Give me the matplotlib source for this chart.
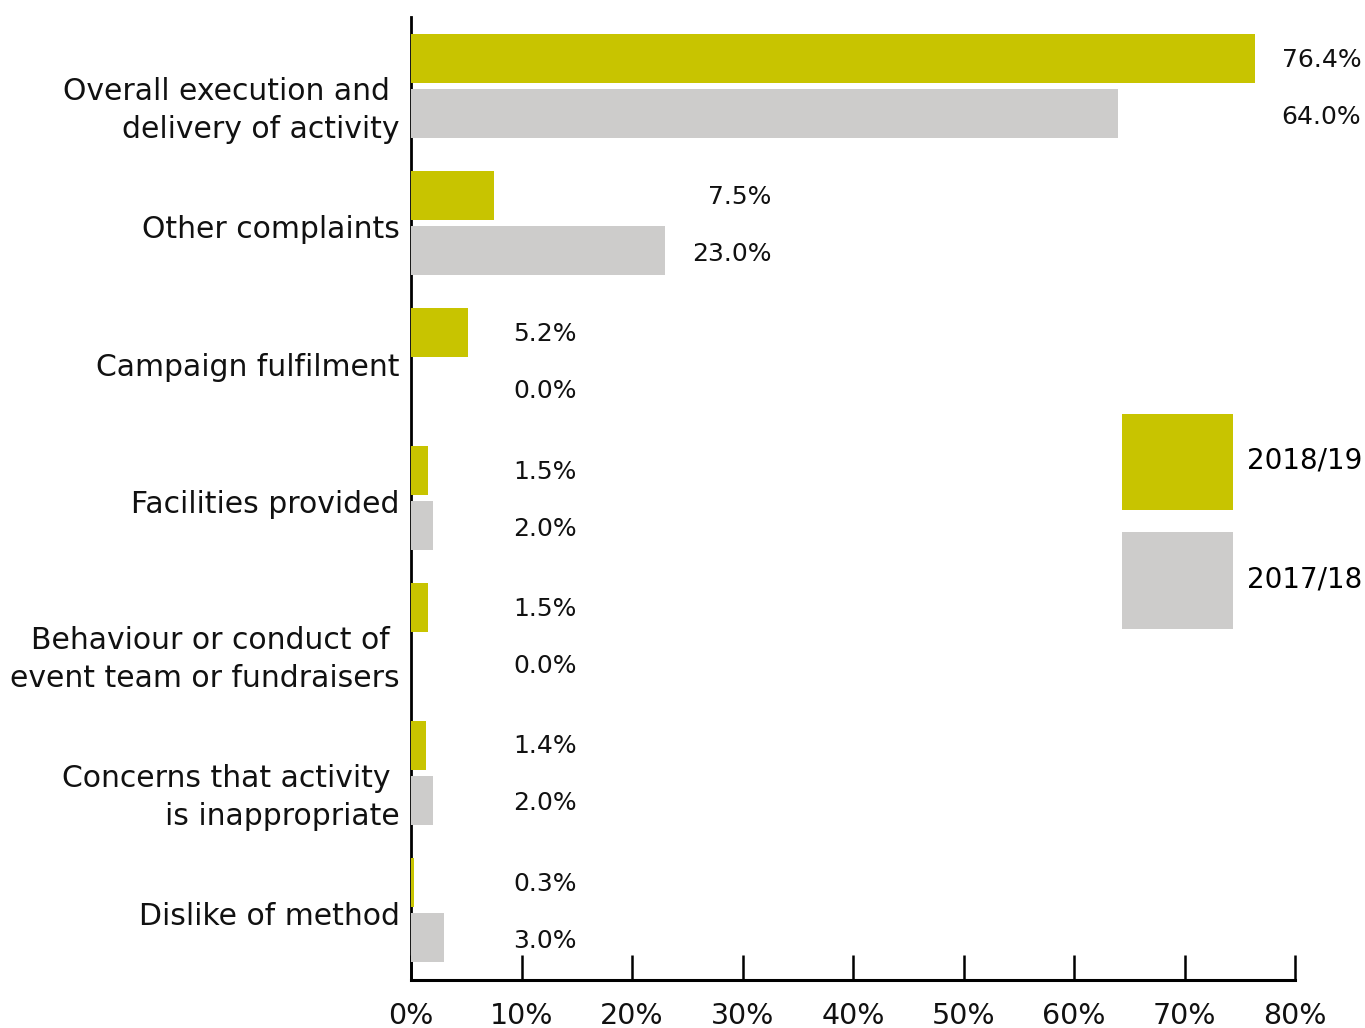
import matplotlib.pyplot as plt

categories = [
    'Overall execution and \ndelivery of activity',
    'Other complaints',
    'Campaign fulfilment',
    'Facilities provided',
    'Behaviour or conduct of \nevent team or fundraisers',
    'Concerns that activity \nis inappropriate',
    'Dislike of method',
]
y2018 = [76.4, 7.5, 5.2, 1.5, 1.5, 1.4, 0.3]
y2017 = [64.0, 23.0, 0.0, 2.0, 0.0, 2.0, 3.0]
xticks = [0, 10, 20, 30, 40, 50, 60, 70, 80]

green = '#c8c400'
grey = '#cdcccb'

plt.rcParams['font.family'] = 'DejaVu Sans'

fig = plt.figure(figsize=(13.65, 10.28), dpi=100)
ax = fig.add_axes([411/1365, 1 - 980/1028, 884/1365, 963/1028])

pos = list(range(len(categories)))
h = 0.357
off = 0.2
b1 = ax.barh([p - off for p in pos], y2018, height=h, color=green, zorder=3, label='2018/19')
b2 = ax.barh([p + off for p in pos], y2017, height=h, color=grey, zorder=3, label='2017/18')

# value labels, right-aligned a bit past the longest bar in each group
for i in pos:
    lx = max(max(y2018[i], y2017[i]) + 9.6, 15.0)
    ax.text(lx, i - off + 0.01, f'{y2018[i]:.1f}%', ha='right', va='center', fontsize=18, color='#111111')
    ax.text(lx, i + off + 0.025, f'{y2017[i]:.1f}%', ha='right', va='center', fontsize=18, color='#111111')

# category names, first line sitting on the group centre
line_step = 0.27
for i, name in enumerate(categories):
    extra = name.count('\n') * line_step
    ax.text(-0.013, i + 0.11 + extra, name, transform=ax.get_yaxis_transform(),
            ha='right', va='baseline', fontsize=21.5, color='#111111', linespacing=1.4)

ax.set_xlim(0, 80)
ax.set_ylim(6.51, -0.5)
ax.set_yticks([])
ax.set_xticks(xticks)
ax.set_xticklabels([f'{t}%' for t in xticks], fontsize=20.5, color='#111111')
ax.tick_params(axis='x', direction='in', length=18, width=1.8, pad=16)

for s in ['top', 'right']:
    ax.spines[s].set_visible(False)
ax.spines['left'].set_linewidth(2)
ax.spines['bottom'].set_linewidth(2.2)

ax.legend(handles=[b1, b2], loc='upper left', bbox_to_anchor=(1122/1365, 1 - 414/1028),
          bbox_transform=fig.transFigure, frameon=False, fontsize=20,
          handlelength=4.0, handleheight=4.95, handletextpad=0.5,
          labelspacing=0.8, borderpad=0, borderaxespad=0)

fig.savefig('out.png', dpi=100)
